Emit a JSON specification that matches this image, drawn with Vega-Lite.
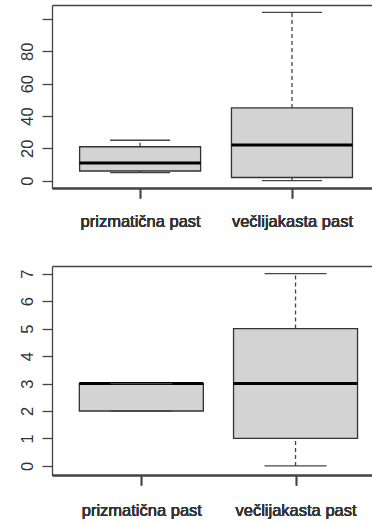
{
  "$schema": "https://vega.github.io/schema/vega-lite/v6.json",
  "background": "white",
  "padding": {"left": 0, "top": 5, "right": 0, "bottom": 0},
  "align": "none",
  "bounds": "full",
  "spacing": 36,
  "config": {
    "view": {"stroke": null},
    "axis": {
      "domainColor": "#444", "domainWidth": 1.3,
      "tickColor": "#444", "tickWidth": 1.3, "tickSize": 10,
      "labelFont": "Liberation Sans", "labelFontSize": 16.5, "labelColor": "#333",
      "grid": false, "labelOverlap": false, "labelFlush": false, "labelBound": false
    },
    "axisY": {"labelAngle": 270, "labelAlign": "center", "labelBaseline": "alphabetic", "labelPadding": 10},
    "axisX": {"labelAngle": 0, "labelPadding": 15}
  },
  "vconcat": [
    {
      "width": 320,
      "height": 183,
      "data": {"values": [
        {"trap": "prizmatična past", "lower": 5, "q1": 6, "median": 11, "q3": 21, "upper": 25},
        {"trap": "večlijakasta past", "lower": 0, "q1": 2, "median": 22, "q3": 45, "upper": 104}
      ]},
      "encoding": {
        "x": {"field": "trap", "type": "nominal", "sort": null, "title": null,
              "scale": {"type": "point", "padding": 0.5537, "align": 0.524},
              "axis": {"orient": "bottom", "minExtent": 40, "maxExtent": 40}}
      },
      "layer": [
        {
          "mark": {"type": "rule", "color": "#444", "strokeWidth": 1.3, "strokeDash": [4, 3]},
          "encoding": {
            "y": {"field": "lower", "type": "quantitative", "title": null,
                  "scale": {"domain": [-4.5, 108.6], "nice": false, "zero": false},
                  "axis": {"values": [0, 20, 40, 60, 80, 100], "labelExpr": "datum.value == 100 ? '' : datum.label", "minExtent": 52, "maxExtent": 52}},
            "y2": {"field": "q1"}
          }
        },
        {
          "mark": {"type": "rule", "color": "#444", "strokeWidth": 1.3, "strokeDash": [4, 3]},
          "encoding": {
            "y": {"field": "q3", "type": "quantitative", "title": null,
                  "scale": {"domain": [-4.5, 108.6], "nice": false, "zero": false},
                  "axis": {"values": [0, 20, 40, 60, 80, 100], "labelExpr": "datum.value == 100 ? '' : datum.label", "minExtent": 52, "maxExtent": 52}},
            "y2": {"field": "upper"}
          }
        },
        {
          "mark": {"type": "bar", "width": 121, "fill": "#d3d3d3", "stroke": "#333", "strokeWidth": 1.3},
          "encoding": {
            "y": {"field": "q1", "type": "quantitative", "title": null,
                  "scale": {"domain": [-4.5, 108.6], "nice": false, "zero": false},
                  "axis": {"values": [0, 20, 40, 60, 80, 100], "labelExpr": "datum.value == 100 ? '' : datum.label", "minExtent": 52, "maxExtent": 52}},
            "y2": {"field": "q3"}
          }
        },
        {
          "mark": {"type": "tick", "size": 121, "thickness": 3, "color": "#000", "opacity": 1},
          "encoding": {
            "y": {"field": "median", "type": "quantitative", "title": null,
                  "scale": {"domain": [-4.5, 108.6], "nice": false, "zero": false},
                  "axis": {"values": [0, 20, 40, 60, 80, 100], "labelExpr": "datum.value == 100 ? '' : datum.label", "minExtent": 52, "maxExtent": 52}}
          }
        },
        {
          "mark": {"type": "tick", "size": 60, "thickness": 1.3, "color": "#444", "opacity": 1},
          "encoding": {
            "y": {"field": "lower", "type": "quantitative", "title": null,
                  "scale": {"domain": [-4.5, 108.6], "nice": false, "zero": false},
                  "axis": {"values": [0, 20, 40, 60, 80, 100], "labelExpr": "datum.value == 100 ? '' : datum.label", "minExtent": 52, "maxExtent": 52}}
          }
        },
        {
          "mark": {"type": "tick", "size": 60, "thickness": 1.3, "color": "#444", "opacity": 1},
          "encoding": {
            "x": {"field": "trap", "type": "nominal", "sort": null, "title": null,
                  "scale": {"type": "point", "padding": 0.5537, "align": 0.524},
                  "axis": {"orient": "top", "ticks": false, "labels": false}},
            "y": {"field": "upper", "type": "quantitative", "title": null,
                  "scale": {"domain": [-4.5, 108.6], "nice": false, "zero": false},
                  "axis": {"values": [0, 20, 40, 60, 80, 100], "labelExpr": "datum.value == 100 ? '' : datum.label", "minExtent": 52, "maxExtent": 52}}
          }
        }
      ]
    },
    {
      "width": 327,
      "height": 209,
      "data": {"values": [
        {"trap": "prizmatična past", "lower": 2, "q1": 2, "median": 3, "q3": 3, "upper": 3},
        {"trap": "večlijakasta past", "lower": 0, "q1": 1, "median": 3, "q3": 5, "upper": 7}
      ]},
      "encoding": {
        "x": {"field": "trap", "type": "nominal", "sort": null, "title": null,
              "scale": {"type": "point", "padding": 0.5603, "align": 0.517},
              "axis": {"orient": "bottom", "labelPadding": 17}}
      },
      "layer": [
        {
          "mark": {"type": "rule", "color": "#444", "strokeWidth": 1.3, "strokeDash": [4, 3]},
          "encoding": {
            "y": {"field": "lower", "type": "quantitative", "title": null,
                  "scale": {"domain": [-0.33, 7.28], "nice": false, "zero": false},
                  "axis": {"values": [0, 1, 2, 3, 4, 5, 6, 7], "minExtent": 45, "maxExtent": 45}},
            "y2": {"field": "q1"}
          }
        },
        {
          "mark": {"type": "rule", "color": "#444", "strokeWidth": 1.3, "strokeDash": [4, 3]},
          "encoding": {
            "y": {"field": "q3", "type": "quantitative", "title": null,
                  "scale": {"domain": [-0.33, 7.28], "nice": false, "zero": false},
                  "axis": {"values": [0, 1, 2, 3, 4, 5, 6, 7], "minExtent": 45, "maxExtent": 45}},
            "y2": {"field": "upper"}
          }
        },
        {
          "mark": {"type": "bar", "width": 124, "fill": "#d3d3d3", "stroke": "#333", "strokeWidth": 1.3},
          "encoding": {
            "y": {"field": "q1", "type": "quantitative", "title": null,
                  "scale": {"domain": [-0.33, 7.28], "nice": false, "zero": false},
                  "axis": {"values": [0, 1, 2, 3, 4, 5, 6, 7], "minExtent": 45, "maxExtent": 45}},
            "y2": {"field": "q3"}
          }
        },
        {
          "mark": {"type": "tick", "size": 124, "thickness": 3, "color": "#000", "opacity": 1},
          "encoding": {
            "y": {"field": "median", "type": "quantitative", "title": null,
                  "scale": {"domain": [-0.33, 7.28], "nice": false, "zero": false},
                  "axis": {"values": [0, 1, 2, 3, 4, 5, 6, 7], "minExtent": 45, "maxExtent": 45}}
          }
        },
        {
          "mark": {"type": "tick", "size": 62, "thickness": 1.3, "color": "#444", "opacity": 1},
          "encoding": {
            "y": {"field": "lower", "type": "quantitative", "title": null,
                  "scale": {"domain": [-0.33, 7.28], "nice": false, "zero": false},
                  "axis": {"values": [0, 1, 2, 3, 4, 5, 6, 7], "minExtent": 45, "maxExtent": 45}}
          }
        },
        {
          "mark": {"type": "tick", "size": 62, "thickness": 1.3, "color": "#444", "opacity": 1},
          "encoding": {
            "x": {"field": "trap", "type": "nominal", "sort": null, "title": null,
                  "scale": {"type": "point", "padding": 0.5603, "align": 0.517},
                  "axis": {"orient": "top", "ticks": false, "labels": false}},
            "y": {"field": "upper", "type": "quantitative", "title": null,
                  "scale": {"domain": [-0.33, 7.28], "nice": false, "zero": false},
                  "axis": {"values": [0, 1, 2, 3, 4, 5, 6, 7], "minExtent": 45, "maxExtent": 45}}
          }
        }
      ]
    }
  ]
}
